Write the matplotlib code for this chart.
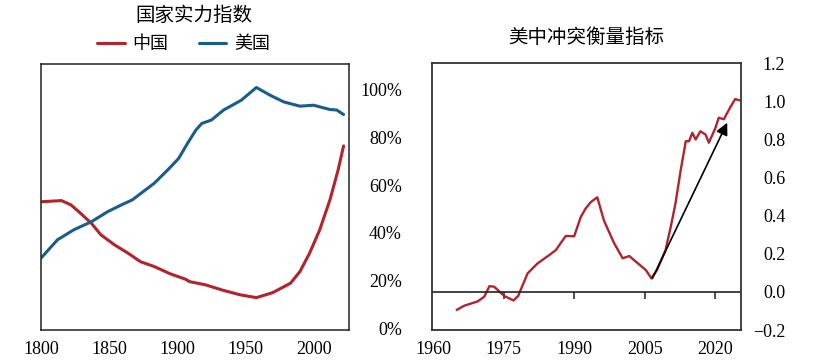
import matplotlib
matplotlib.use("Agg")
import matplotlib.pyplot as plt

# 国家实力指数 (左图)
cn_years = [1800, 1815, 1822, 1829, 1837, 1844, 1854, 1864, 1873, 1883, 1895, 1906,
            1909, 1921, 1934, 1946, 1958, 1970, 1983, 1990, 1997, 2004.5, 2012, 2018, 2022]
cn_power = [53.0, 53.5, 51.7, 48.2, 44.0, 39.2, 35.0, 31.5, 28.0, 26.0, 22.9, 20.7,
            19.7, 18.3, 16.0, 14.2, 13.0, 15.1, 19.0, 23.9, 31.5, 41.3, 53.8, 66.3, 76.3]
us_years = [1800, 1812, 1824, 1837, 1849, 1859, 1867, 1883, 1893, 1901, 1907.5, 1913.6,
            1918, 1925, 1934, 1947, 1958, 1968, 1978, 1990, 2000, 2012, 2017, 2022]
us_power = [29.5, 37.1, 41.3, 44.7, 48.9, 51.7, 53.8, 60.7, 66.3, 71.1, 77.4, 82.9,
            85.7, 87.1, 91.3, 95.4, 100.7, 97.5, 94.7, 92.9, 93.3, 91.5, 91.3, 89.4]
left_xticks = [1800, 1850, 1900, 1950, 2000]
left_yticks = [0, 20, 40, 60, 80, 100]

# 美中冲突衡量指标 (右图)
conf_years = [1965.1, 1966.6, 1969.5, 1970.9, 1972.0, 1973.0, 1975.1, 1977.1, 1978.1,
              1980.1, 1982.2, 1984.7, 1986.1, 1988.2, 1990.0, 1991.4, 1992.4, 1993.5,
              1994.9, 1996.3, 1998.5, 2000.3, 2001.7, 2003.1, 2005.2, 2006.4, 2007.6,
              2009.4, 2010.5, 2011.5, 2012.6, 2013.7, 2014.4, 2015.1, 2015.8, 2016.8,
              2017.9, 2018.6, 2020.0, 2020.7, 2021.8, 2022.1, 2023.2, 2024.2, 2025.0]
conf_value = [-0.094, -0.073, -0.05, -0.025, 0.03, 0.027, -0.021, -0.045, -0.021,
              0.097, 0.149, 0.193, 0.219, 0.293, 0.292, 0.393, 0.436, 0.47,
              0.496, 0.375, 0.254, 0.176, 0.188, 0.158, 0.115, 0.071, 0.115,
              0.219, 0.34, 0.462, 0.635, 0.79, 0.79, 0.834, 0.799, 0.842,
              0.825, 0.782, 0.86, 0.913, 0.905, 0.92, 0.97, 1.011, 1.005]
arrow_start = (2006.6, 0.07)
arrow_end = (2022.5, 0.887)
right_xticks = [1960, 1975, 1990, 2005, 2020]
right_yticks = [-0.2, 0.0, 0.2, 0.4, 0.6, 0.8, 1.0, 1.2]

RED = '#b3232b'
BLUE = '#1a5c8c'
cjk = ['Noto Sans CJK SC', 'DejaVu Sans']
serif = 'Liberation Serif'

fig = plt.figure(figsize=(8.17, 3.64), dpi=100)

# ---- 左图
ax1 = fig.add_axes([0.0502, 0.0934, 0.377, 0.7308])
l1, = ax1.plot(cn_years, cn_power, color=RED, lw=2.2, solid_capstyle='round',
               solid_joinstyle='round')
l2, = ax1.plot(us_years, us_power, color=BLUE, lw=2.2, solid_capstyle='round',
               solid_joinstyle='round')
ax1.set_xlim(1800, 2026)
ax1.set_ylim(-0.5, 110.5)
ax1.set_xticks(left_xticks)
ax1.set_xticklabels([str(v) for v in left_xticks], fontfamily=serif, fontsize=13)
ax1.yaxis.tick_right()
ax1.set_yticks(left_yticks)
ax1.set_yticklabels([f'{v}%' for v in left_yticks], fontfamily=serif, fontsize=13)
for lab in ax1.get_yticklabels():
    lab.set_horizontalalignment('right')
ax1.tick_params(axis='x', length=0, pad=8)
ax1.tick_params(axis='y', length=0, pad=38)
for sp in ax1.spines.values():
    sp.set_color('#222222')
    sp.set_linewidth(1.1)

fig.text(194 / 817, 1 - 15 / 364, '国家实力指数', family=cjk, fontsize=14,
         ha='center', va='center')
fig.legend([l1, l2], ['中国', '美国'], loc='center', ncol=2,
           bbox_to_anchor=(184 / 817, 1 - 44 / 364), frameon=False,
           prop={'family': cjk, 'size': 13}, handlelength=1.5,
           handletextpad=0.45, columnspacing=1.7)

# ---- 右图
ax2 = fig.add_axes([0.5288, 0.0934, 0.378, 0.7335])
ax2.plot(conf_years, conf_value, color=RED, lw=1.7, solid_joinstyle='round')
ax2.set_xlim(1959.8, 2025.4)
ax2.set_ylim(-0.2, 1.2)
ax2.set_xticks(right_xticks)
ax2.set_xticklabels([str(v) for v in right_xticks], fontfamily=serif, fontsize=13)
ax2.yaxis.tick_right()
ax2.set_yticks(right_yticks)
ax2.set_yticklabels([f'{v:.1f}'.replace('-', '\u2212') for v in right_yticks],
                    fontfamily=serif, fontsize=13)
for lab in ax2.get_yticklabels():
    lab.set_horizontalalignment('right')
ax2.tick_params(axis='x', length=0, pad=8)
ax2.tick_params(axis='y', length=0, pad=32)
for sp in ax2.spines.values():
    sp.set_color('#333333')
    sp.set_linewidth(1.3)

# 零线和刻度
ax2.axhline(0, color='#222222', lw=1.2)
zero_ax = ax2.secondary_xaxis(0.2 / 1.4)
zero_ax.set_xticks(right_xticks[1:])
zero_ax.tick_params(axis='x', direction='out', length=5, width=1.1,
                    colors='#222222', labelbottom=False)
zero_ax.spines['bottom'].set_visible(False)

ax2.annotate('', xy=arrow_end, xytext=arrow_start,
             arrowprops=dict(arrowstyle='-|>', color='black', lw=1.2,
                             mutation_scale=18, shrinkA=0, shrinkB=0))

fig.text(586 / 817, 1 - 37 / 364, '美中冲突衡量指标', family=cjk, fontsize=14,
         ha='center', va='center')

fig.savefig('out.png', dpi=100)
